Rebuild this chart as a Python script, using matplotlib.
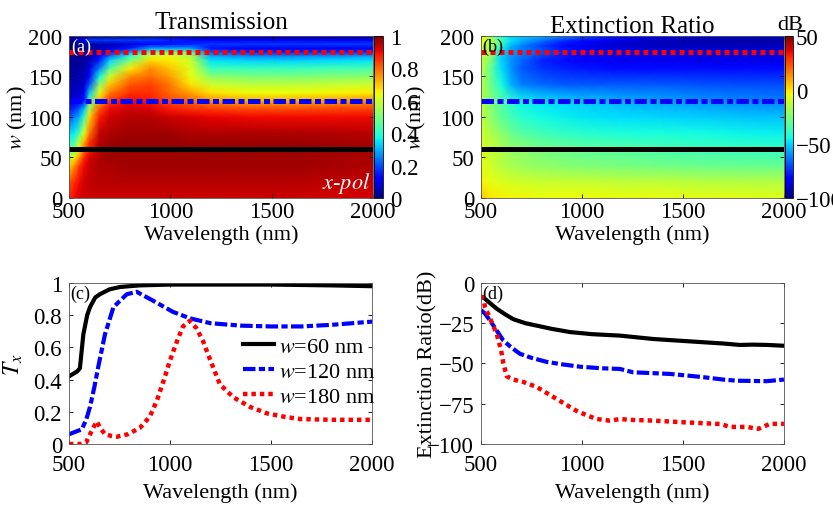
import numpy as np
import matplotlib
matplotlib.use("Agg")
import matplotlib.pyplot as plt

plt.rcParams['font.family'] = ['Liberation Serif', 'DejaVu Serif']
plt.rcParams['mathtext.fontset'] = 'stix'
plt.rcParams['font.size'] = 15

# ---- transmission map: one list per wavelength column ----
t_lam = [500, 525, 550, 575, 600, 650, 700, 800, 900, 1000, 1100, 1200, 1400, 1600, 2000]
t_w = [0, 20, 40, 50, 60, 70, 80, 100, 110, 120, 130, 140, 150, 160, 170, 176, 180, 185, 190, 195, 200]
t_cols = [
    [0.87, 0.82, 0.68, 0.55, 0.45, 0.40, 0.34, 0.20, 0.15, 0.07, 0.05, 0.04, 0.03, 0.02, 0.02, 0.01, 0.00, 0.00, 0.00, 0.02, 0.00],
    [0.90, 0.86, 0.75, 0.65, 0.50, 0.42, 0.36, 0.25, 0.17, 0.08, 0.06, 0.05, 0.04, 0.03, 0.02, 0.01, 0.00, 0.00, 0.00, 0.05, 0.00],
    [0.92, 0.90, 0.85, 0.75, 0.65, 0.57, 0.45, 0.30, 0.22, 0.10, 0.07, 0.05, 0.04, 0.03, 0.02, 0.02, 0.00, 0.00, 0.01, 0.08, 0.00],
    [0.93, 0.93, 0.90, 0.87, 0.80, 0.72, 0.62, 0.42, 0.32, 0.15, 0.10, 0.07, 0.05, 0.04, 0.03, 0.02, 0.01, 0.01, 0.02, 0.12, 0.00],
    [0.93, 0.94, 0.93, 0.92, 0.88, 0.85, 0.78, 0.68, 0.57, 0.45, 0.32, 0.20, 0.12, 0.08, 0.05, 0.04, 0.02, 0.02, 0.04, 0.18, 0.00],
    [0.93, 0.95, 0.96, 0.96, 0.96, 0.95, 0.94, 0.88, 0.82, 0.72, 0.63, 0.52, 0.37, 0.25, 0.15, 0.12, 0.08, 0.05, 0.05, 0.18, 0.00],
    [0.93, 0.95, 0.96, 0.97, 0.97, 0.97, 0.96, 0.93, 0.90, 0.85, 0.78, 0.70, 0.60, 0.45, 0.33, 0.22, 0.15, 0.08, 0.05, 0.18, 0.00],
    [0.93, 0.95, 0.97, 0.97, 0.98, 0.98, 0.97, 0.95, 0.93, 0.90, 0.86, 0.82, 0.76, 0.66, 0.50, 0.38, 0.28, 0.15, 0.08, 0.18, 0.00],
    [0.93, 0.95, 0.97, 0.97, 0.98, 0.98, 0.97, 0.95, 0.92, 0.88, 0.86, 0.84, 0.80, 0.76, 0.68, 0.60, 0.45, 0.28, 0.12, 0.18, 0.00],
    [0.93, 0.95, 0.97, 0.97, 0.98, 0.98, 0.97, 0.93, 0.88, 0.83, 0.80, 0.78, 0.74, 0.70, 0.66, 0.62, 0.50, 0.28, 0.14, 0.16, 0.00],
    [0.93, 0.95, 0.97, 0.97, 0.98, 0.97, 0.96, 0.92, 0.86, 0.80, 0.74, 0.67, 0.63, 0.62, 0.60, 0.55, 0.48, 0.28, 0.16, 0.14, 0.00],
    [0.93, 0.95, 0.97, 0.97, 0.98, 0.97, 0.96, 0.91, 0.85, 0.76, 0.67, 0.60, 0.52, 0.42, 0.35, 0.28, 0.22, 0.14, 0.18, 0.12, 0.00],
    [0.93, 0.95, 0.97, 0.97, 0.98, 0.97, 0.96, 0.90, 0.83, 0.73, 0.64, 0.58, 0.50, 0.42, 0.33, 0.25, 0.17, 0.10, 0.18, 0.10, 0.02],
    [0.93, 0.95, 0.97, 0.97, 0.98, 0.97, 0.96, 0.90, 0.83, 0.73, 0.64, 0.58, 0.50, 0.42, 0.33, 0.25, 0.17, 0.10, 0.18, 0.10, 0.02],
    [0.92, 0.94, 0.96, 0.96, 0.97, 0.96, 0.95, 0.90, 0.84, 0.76, 0.66, 0.60, 0.52, 0.44, 0.35, 0.27, 0.18, 0.10, 0.18, 0.10, 0.02],
]

# ---- extinction ratio map (dB): one list per w row ----
e_lam = [500, 550, 600, 650, 700, 800, 900, 1000, 1100, 1200, 1400, 1600, 1800, 2000]
e_w = [0, 20, 40, 60, 80, 100, 120, 140, 160, 170, 180, 188, 194, 200]
e_rows = [
    [5, 0, -2, -3, -3, -4, -4, -4, -4, -5, -5, -6, -6, -7],
    [-2, -6, -8, -9, -10, -11, -11, -12, -12, -13, -13, -14, -15, -15],
    [-6, -10, -14, -17, -19, -21, -23, -24, -25, -26, -27, -28, -29, -29],
    [-8, -12, -16, -20, -22, -26, -28, -30, -31, -32, -34, -36, -37, -38],
    [-10, -16, -22, -28, -32, -36, -38, -40, -41, -42, -43, -44, -45, -46],
    [-12, -22, -30, -36, -40, -44, -46, -47, -48, -49, -50, -51, -52, -53],
    [-14, -24, -32, -40, -45, -48, -50, -52, -53, -55, -57, -59, -61, -62],
    [-14, -28, -42, -55, -62, -66, -68, -68, -68, -68, -68, -69, -70, -70],
    [-12, -30, -48, -60, -68, -74, -76, -78, -79, -80, -80, -80, -80, -80],
    [-11, -25, -50, -60, -66, -76, -80, -82, -84, -85, -85, -86, -86, -86],
    [-10, -22, -50, -58, -62, -68, -75, -80, -85, -85, -86, -87, -88, -87],
    [-8, -18, -40, -55, -62, -72, -80, -85, -88, -90, -92, -92, -92, -92],
    [-5, -15, -35, -48, -55, -65, -75, -80, -85, -88, -92, -94, -95, -95],
    [-3, -20, -40, -50, -52, -55, -60, -68, -75, -80, -85, -88, -90, -90],
]

# ---- line cuts ----
lam_t60 = [500, 540, 554, 571, 590, 604, 630, 653, 700, 752, 850, 1000, 1500, 1800, 2000]
t60 = [0.42, 0.45, 0.47, 0.68, 0.80, 0.85, 0.91, 0.93, 0.96, 0.975, 0.985, 0.99, 0.99, 0.985, 0.98]

lam_t120 = [500, 540, 563, 585, 604, 625, 645, 678, 720, 786, 835, 916, 1015, 1100, 1200, 1350, 1500, 1650, 1800, 2000]
t120 = [0.06, 0.08, 0.09, 0.15, 0.23, 0.35, 0.48, 0.68, 0.85, 0.93, 0.945, 0.89, 0.82, 0.78, 0.75, 0.735, 0.73, 0.73, 0.74, 0.76]

lam_t180 = [500, 530, 560, 585, 600, 620, 637, 655, 678, 710, 737, 790, 851, 900, 935, 970, 1000, 1035, 1064, 1098,
            1130, 1163, 1181, 1215, 1247, 1313, 1396, 1480, 1560, 1643, 1800, 2000]
t180 = [0.0, 0.0, 0.0, 0.01, 0.05, 0.10, 0.14, 0.10, 0.06, 0.05, 0.045, 0.06, 0.10, 0.17, 0.27, 0.40, 0.52, 0.64, 0.73, 0.765,
        0.72, 0.64, 0.58, 0.47, 0.37, 0.29, 0.23, 0.19, 0.17, 0.155, 0.15, 0.15]

lam_e60 = [500, 511, 540, 578, 620, 660, 720, 776, 850, 941, 1050, 1188, 1353, 1500, 1599, 1700, 1782, 1848, 1920, 2000]
e60 = [-8.5, -8.9, -12, -16, -19.5, -22.5, -25, -26.5, -28.5, -30.5, -31.8, -32.7, -34.8, -36, -36.8, -37.6, -38.5, -38.3, -38.5, -39]

lam_e120 = [500, 503, 520, 545, 575, 611, 650, 693, 750, 825, 900, 990, 1100, 1188, 1254, 1350, 1436, 1520, 1600, 1700, 1765, 1914, 2000]
e120 = [-17, -17.2, -19, -23.4, -29, -35.8, -40, -44, -46.5, -49, -50.5, -52, -53, -53.4, -55.5, -56, -56.5, -57.5, -58.5, -60, -60.7, -61, -60]

lam_e180 = [500, 511, 520, 545, 578, 600, 611, 628, 660, 710, 776, 858, 920, 974, 1030, 1073, 1139, 1188, 1238, 1353, 1500,
            1683, 1710, 1733, 1815, 1873, 1931, 2000]
e180 = [-8.5, -8.9, -15, -22, -31.7, -42, -50, -58, -60, -61.5, -64.6, -70.8, -75.5, -79.5, -82.5, -84.5, -85.5, -84.5, -85, -85.5, -86.5,
        -87.6, -88.5, -89.4, -89.4, -90.6, -87.5, -87.5]

w_cuts = [60, 120, 180]
cut_labels = ['$w$=60 nm', '$w$=120 nm', '$w$=180 nm']

styles = [
    dict(color='black', linestyle='-', lw=3.0),
    dict(color='blue', linestyle=(0, (3.0, 0.8, 1.5, 0.8)), lw=3.0),
    dict(color='red', linestyle=(0, (1.0, 0.9)), lw=3.2),
]
map_styles = [
    dict(color='black', linestyle='-', lw=3.6),
    dict(color='blue', linestyle=(0, (2.5, 0.7, 1.2, 0.7)), lw=3.6),
    dict(color='red', linestyle=(0, (1.0, 0.8)), lw=3.6),
]

fig = plt.figure(figsize=(8.33, 5.10), dpi=100)


def style_axes(ax, xpad):
    ax.tick_params(direction='in', top=True, right=True, length=3, width=0.6, colors='black', labelsize=16.5)
    ax.tick_params(axis='x', pad=xpad)
    ax.tick_params(axis='y', pad=5)
    for s in ax.spines.values():
        s.set_linewidth(0.6)
        s.set_color('#555555')


# (a) transmission
ax_a = fig.add_axes([0.0828, 0.6098, 0.365, 0.3177])
Xa, Ya = np.meshgrid(t_lam, t_w)
pa = ax_a.pcolormesh(Xa, Ya, np.array(t_cols).T, cmap='jet', vmin=0, vmax=1, shading='gouraud')
for wc, st in zip(w_cuts, map_styles):
    ax_a.plot([500, 2000], [wc, wc], **st)
ax_a.set_xlim(500, 2000)
ax_a.set_ylim(0, 200)
ax_a.set_xticks([500, 1000, 1500, 2000])
ax_a.set_yticks([0, 50, 100, 150, 200])
style_axes(ax_a, 2)
ax_a.set_xlabel('Wavelength (nm)', fontsize=16)
ax_a.xaxis.set_label_coords(0.5, -0.165)
ax_a.set_ylabel('$w$ (nm)', fontsize=16)
ax_a.yaxis.set_label_coords(-0.13, 0.5)
ax_a.set_title('Transmission', fontsize=18, pad=6)
ax_a.text(0.008, 0.99, '(a)', color='white', fontsize=13, transform=ax_a.transAxes, va='top', ha='left')
ax_a.text(0.99, 0.02, '$x$-$pol$', color='white', fontsize=16, transform=ax_a.transAxes, va='bottom', ha='right')
cax_a = fig.add_axes([0.449, 0.6098, 0.011, 0.3177])
cb_a = fig.colorbar(pa, cax=cax_a, ticks=[0, 0.2, 0.4, 0.6, 0.8, 1])
cb_a.ax.set_yticklabels(['0', '0.2', '0.4', '0.6', '0.8', '1'])
cb_a.ax.tick_params(labelsize=16.5, length=0, pad=5)
cb_a.outline.set_linewidth(0.6)

# (b) extinction ratio
ax_b = fig.add_axes([0.5774, 0.6098, 0.3637, 0.3177])
Xb, Yb = np.meshgrid(e_lam, e_w)
pb = ax_b.pcolormesh(Xb, Yb, np.array(e_rows), cmap='jet', vmin=-100, vmax=50, shading='gouraud')
for wc, st in zip(w_cuts, map_styles):
    ax_b.plot([500, 2000], [wc, wc], **st)
ax_b.set_xlim(500, 2000)
ax_b.set_ylim(0, 200)
ax_b.set_xticks([500, 1000, 1500, 2000])
ax_b.set_yticks([0, 50, 100, 150, 200])
style_axes(ax_b, 2)
ax_b.set_xlabel('Wavelength (nm)', fontsize=16)
ax_b.xaxis.set_label_coords(0.5, -0.165)
ax_b.set_ylabel('$w$ (nm)', fontsize=16)
ax_b.yaxis.set_label_coords(-0.175, 0.5)
ax_b.set_title('Extinction Ratio', fontsize=18, pad=3)
ax_b.text(0.004, 0.99, '(b)', color='black', fontsize=13, transform=ax_b.transAxes, va='top', ha='left')
cax_b = fig.add_axes([0.9424, 0.6098, 0.0096, 0.3177])
cb_b = fig.colorbar(pb, cax=cax_b, ticks=[-100, -50, 0, 50])
cb_b.ax.tick_params(labelsize=16.5, length=0, pad=2)
cb_b.outline.set_linewidth(0.6)
fig.text(790 / 833, 1 - 25 / 510, 'dB', fontsize=16, ha='center', va='center')

# (c) Tx cuts
ax_c = fig.add_axes([0.0828, 0.1275, 0.364, 0.3157])
ax_c.plot(lam_t60, t60, label=cut_labels[0], **styles[0])
ax_c.plot(lam_t120, t120, label=cut_labels[1], **styles[1])
ax_c.plot(lam_t180, t180, label=cut_labels[2], **styles[2])
ax_c.set_xlim(500, 2000)
ax_c.set_ylim(0, 1)
ax_c.set_xticks([500, 1000, 1500, 2000])
ax_c.set_yticks([0, 0.2, 0.4, 0.6, 0.8, 1])
ax_c.set_yticklabels(['0', '0.2', '0.4', '0.6', '0.8', '1'])
style_axes(ax_c, 7)
ax_c.set_xlabel('Wavelength (nm)', fontsize=16)
ax_c.xaxis.set_label_coords(0.5, -0.235)
ax_c.set_ylabel('$T_x$', fontsize=17)
ax_c.yaxis.set_label_coords(-0.145, 0.5)
ax_c.text(0.004, 0.99, '(c)', color='black', fontsize=13, transform=ax_c.transAxes, va='top', ha='left')
ax_c.legend(loc='center right', bbox_to_anchor=(1.01, 0.45), frameon=False, fontsize=16,
            handlelength=1.4, handletextpad=0.2, labelspacing=0.2, borderaxespad=0, borderpad=0)

# (d) ER cuts
ax_d = fig.add_axes([0.5774, 0.1275, 0.3637, 0.3157])
ax_d.plot(lam_e60, e60, **styles[0])
ax_d.plot(lam_e120, e120, **styles[1])
ax_d.plot(lam_e180, e180, **styles[2])
ax_d.set_xlim(500, 2000)
ax_d.set_ylim(-100, 0)
ax_d.set_xticks([500, 1000, 1500, 2000])
ax_d.set_yticks([-100, -75, -50, -25, 0])
style_axes(ax_d, 7)
ax_d.set_xlabel('Wavelength (nm)', fontsize=16)
ax_d.xaxis.set_label_coords(0.5, -0.235)
ax_d.set_ylabel('Extinction Ratio(dB)', fontsize=16)
ax_d.yaxis.set_label_coords(-0.145, 0.5)
ax_d.text(0.004, 0.99, '(d)', color='black', fontsize=13, transform=ax_d.transAxes, va='top', ha='left')

fig.savefig('out.png', dpi=100)
